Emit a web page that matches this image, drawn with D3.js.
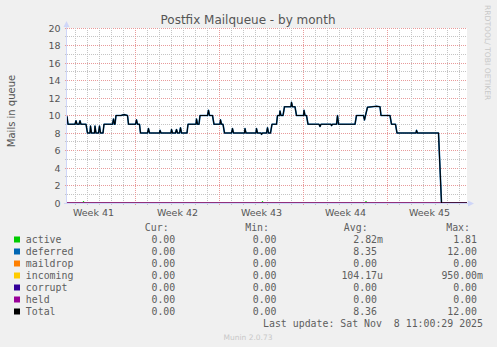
<!DOCTYPE html>
<html>
<head>
<meta charset="utf-8">
<script src="https://cdn.jsdelivr.net/npm/d3@7"></script>
<style>
  html, body { margin: 0; padding: 0; background: #f0f0f0; }
  svg { display: block; }
  text { font-family: "DejaVu Sans", sans-serif; }
  .mono { font-family: "DejaVu Sans Mono", monospace; font-size: 9.9px; fill: #5e5e5e; white-space: pre; }
</style>
</head>
<body>
<svg id="chart" width="497" height="347"></svg>
<script>
// Postfix mail queue, monthly view (2-hourly consolidated samples)
const fieldNames  = ["active", "deferred", "maildrop", "incoming", "corrupt", "held", "Total"];
const fieldColors = ["#00cc00", "#0066b3", "#ff8000", "#ffcc00", "#330099", "#990099", "#000000"];

const curValues = [0, 0, 0, 0, 0, 0, 0];
const minValues = [0, 0, 0, 0, 0, 0, 0];
const avgValues = [2.82e-3, 8.35, 0, 104.17e-6, 0, 0, 8.36];
const maxValues = [1.81, 12.00, 0, 0.95, 0, 0, 12.00];

const yTicks = [0, 2, 4, 6, 8, 10, 12, 14, 16, 18, 20];
const weekLabels = ["Week 41", "Week 42", "Week 43", "Week 44", "Week 45"];
const timeRange = ["10-06 07:00", "11-08 15:00"];
const lastUpdate = "Sat Nov  8 11:00:29 2025";

// Queue size over time: [month-day hour, mails]
const totalQueue = [
  ["10-06 07:00", 9.9], ["10-06 09:00", 9.0], ["10-06 23:00", 9.0], ["10-07 01:00", 9.4],
  ["10-07 03:00", 9.0], ["10-07 07:00", 9.0], ["10-07 09:00", 9.4], ["10-07 11:00", 9.0],
  ["10-07 21:00", 9.0], ["10-08 00:00", 8.0], ["10-08 05:00", 8.0], ["10-08 06:00", 8.8],
  ["10-08 08:00", 8.0], ["10-08 14:00", 8.0], ["10-08 15:00", 8.8], ["10-08 17:00", 8.0],
  ["10-08 22:00", 8.0], ["10-09 00:00", 8.8], ["10-09 02:00", 8.0], ["10-09 07:00", 8.0],
  ["10-09 09:00", 9.0], ["10-10 02:00", 9.0], ["10-10 04:00", 9.6], ["10-10 06:00", 9.0],
  ["10-10 07:00", 9.0], ["10-10 09:00", 10.0], ["10-10 19:00", 10.0], ["10-11 01:00", 10.1],
  ["10-11 08:00", 10.0], ["10-11 10:00", 9.0], ["10-12 00:00", 9.0], ["10-12 02:00", 9.5],
  ["10-12 04:00", 9.0], ["10-12 08:00", 9.0], ["10-12 10:00", 8.0], ["10-13 00:00", 8.0],
  ["10-13 02:00", 8.5], ["10-13 04:00", 8.0], ["10-14 00:00", 8.0], ["10-14 01:00", 8.3],
  ["10-14 03:00", 8.0], ["10-14 23:00", 8.0], ["10-15 00:00", 8.4], ["10-15 02:00", 8.0],
  ["10-15 08:00", 8.0], ["10-15 10:00", 8.4], ["10-15 12:00", 8.0], ["10-15 16:00", 8.0],
  ["10-15 18:00", 8.6], ["10-15 20:00", 8.0], ["10-16 07:00", 8.0], ["10-16 09:00", 9.0],
  ["10-17 01:00", 9.0], ["10-17 02:00", 9.6], ["10-17 04:00", 9.0], ["10-17 07:00", 9.0],
  ["10-17 09:00", 10.0], ["10-18 00:00", 10.0], ["10-18 02:00", 10.6], ["10-18 04:00", 10.0],
  ["10-18 10:00", 10.0], ["10-18 13:00", 9.0], ["10-19 01:00", 9.0], ["10-19 02:00", 9.5],
  ["10-19 04:00", 9.0], ["10-19 07:00", 9.0], ["10-19 10:00", 8.0], ["10-20 00:00", 8.0],
  ["10-20 02:00", 8.5], ["10-20 04:00", 8.0], ["10-21 02:00", 8.0], ["10-21 03:00", 8.5],
  ["10-21 05:00", 8.0], ["10-22 01:00", 8.0], ["10-22 02:00", 8.5], ["10-22 04:00", 8.0],
  ["10-22 11:00", 8.0], ["10-22 12:00", 7.85], ["10-22 14:00", 8.0], ["10-22 22:00", 8.0],
  ["10-23 00:00", 8.6], ["10-23 02:00", 8.0], ["10-23 06:00", 8.0], ["10-23 09:00", 9.0],
  ["10-23 18:00", 9.0], ["10-23 20:00", 10.0], ["10-24 00:00", 10.0], ["10-24 01:00", 10.5],
  ["10-24 03:00", 10.0], ["10-24 07:00", 10.0], ["10-24 10:00", 11.0], ["10-24 23:00", 11.0],
  ["10-25 00:00", 11.5], ["10-25 02:00", 11.0], ["10-25 07:00", 11.0], ["10-25 10:00", 10.0],
  ["10-26 00:00", 10.0], ["10-26 01:00", 10.6], ["10-26 03:00", 10.0], ["10-26 06:00", 10.0],
  ["10-26 09:00", 9.0], ["10-27 07:00", 9.0], ["10-27 09:00", 8.75], ["10-27 11:00", 9.0],
  ["10-28 07:00", 9.0], ["10-28 08:00", 8.85], ["10-28 10:00", 9.0], ["10-28 18:00", 9.0],
  ["10-28 20:00", 10.0], ["10-28 22:00", 9.0], ["10-30 07:00", 9.0], ["10-30 10:00", 10.0],
  ["10-31 00:00", 10.0], ["10-31 02:00", 9.5], ["10-31 04:00", 10.0], ["10-31 08:00", 10.95],
  ["11-01 02:00", 11.05], ["11-01 09:00", 11.0], ["11-01 11:00", 10.0], ["11-02 05:00", 10.0],
  ["11-02 08:00", 9.0], ["11-02 16:00", 9.0], ["11-02 19:00", 8.0], ["11-04 09:00", 8.0],
  ["11-04 10:00", 8.3], ["11-04 12:00", 8.0], ["11-06 06:00", 8.0], ["11-06 12:00", 0],
  ["11-08 15:00", 0]
];
const activeQueue = [
  ["10-06 07:00", 0], ["10-07 14:00", 0], ["10-07 16:00", 0.2], ["10-07 18:00", 0],
  ["10-22 12:00", 0], ["10-22 14:00", 0.2], ["10-22 16:00", 0],
  ["10-31 03:00", 0], ["10-31 05:00", 0.2], ["10-31 07:00", 0], ["11-08 15:00", 0]
];
const maildropQueue = [["10-06 07:00", 0], ["11-08 15:00", 0]];
const incomingQueue = [["10-06 07:00", 0], ["11-08 15:00", 0]];
const corruptQueue  = [["10-06 07:00", 0], ["11-08 15:00", 0]];
const heldQueue     = [["10-06 07:00", 0], ["11-08 15:00", 0]];

// ---------------------------------------------------------------------------
const parseTime = d3.utcParse("%Y-%m-%d %H:%M");
const toDate = s => parseTime("2025-" + s);
const toPoints = arr => arr.map(([t, v]) => ({ t: toDate(t), v }));

const svg = d3.select("#chart");
const W = 497, H = 347;
const plot = { left: 67, right: 467, top: 28, bottom: 203 };
const AXIS = "#cfd6f8";

svg.append("rect").attr("width", W).attr("height", H).attr("fill", "#f0f0f0");

const x = d3.scaleUtc().domain(timeRange.map(toDate)).range([plot.left, plot.right]);
const y = d3.scaleLinear().domain([0, 20]).range([plot.bottom, plot.top]);
const crisp = v => Math.floor(v) + 0.5;

// canvas
svg.append("rect")
  .attr("x", plot.left).attr("y", plot.top)
  .attr("width", plot.right - plot.left).attr("height", plot.bottom - plot.top)
  .attr("fill", "#ffffff");

const grid = svg.append("g");
const MINOR = "#c4c4c4", MAJOR = "#e89a9a";

// horizontal grid: minor each mail, major every 2
const hMinor = d3.range(1, 21).filter(v => v % 2 !== 0);
grid.selectAll(".hmin").data(hMinor).join("line")
  .attr("x1", plot.left - 2).attr("x2", plot.right)
  .attr("y1", d => crisp(y(d))).attr("y2", d => crisp(y(d)))
  .attr("stroke", MINOR).attr("stroke-dasharray", "1,1");
grid.selectAll(".hmaj").data(yTicks.filter(v => v > 0)).join("line")
  .attr("x1", plot.left - 2).attr("x2", plot.right)
  .attr("y1", d => crisp(y(d))).attr("y2", d => crisp(y(d)))
  .attr("stroke", MAJOR).attr("stroke-dasharray", "1,1");

// vertical grid: daily minor, weekly (Sunday) major
const [t0, t1] = x.domain();
const days = d3.utcDay.range(d3.utcDay.ceil(t0), t1).filter(d => d.getUTCDay() !== 0);
const weeks = d3.utcSunday.range(d3.utcSunday.ceil(t0), t1);
grid.selectAll(".vmin").data(days).join("line")
  .attr("x1", d => crisp(x(d))).attr("x2", d => crisp(x(d)))
  .attr("y1", plot.top).attr("y2", plot.bottom + 2)
  .attr("stroke", MINOR).attr("stroke-dasharray", "1,1");
grid.selectAll(".vmaj").data(weeks).join("line")
  .attr("x1", d => crisp(x(d))).attr("x2", d => crisp(x(d)))
  .attr("y1", plot.top).attr("y2", plot.bottom + 3)
  .attr("stroke", MAJOR).attr("stroke-dasharray", "1,1");

// y tick labels
svg.append("g").selectAll("text").data(yTicks).join("text")
  .attr("x", 60.5).attr("y", d => y(d) + 3.5)
  .attr("text-anchor", "end").attr("font-size", 9.5).attr("fill", "#555")
  .text(d => d);

// week labels, centred on each week
const weekStarts = d3.utcSunday.range(d3.utcSunday.floor(t0), t1);
svg.append("g").selectAll("text").data(weekStarts).join("text")
  .attr("x", d => x(d3.utcHour.offset(d, 84)))
  .attr("y", 216.2)
  .attr("text-anchor", "middle").attr("font-size", 9.5).attr("fill", "#555")
  .text((d, i) => weekLabels[i]);

// series
const series = [activeQueue, totalQueue, maildropQueue, incomingQueue, corruptQueue, heldQueue, totalQueue];
const widths = [1, 1.6, 1, 1, 1, 1, 1.1];
const line = d3.line().x(d => x(d.t)).y(d => y(d.v));
const lines = svg.append("g");
series.forEach((s, i) => {
  lines.append("path")
    .attr("d", line(toPoints(s)))
    .attr("fill", "none")
    .attr("stroke", fieldColors[i])
    .attr("stroke-width", widths[i])
    .attr("stroke-linejoin", "round");
});

// axes with arrows, painted over the series
svg.append("line").attr("x1", plot.left - 0.5).attr("x2", plot.left - 0.5)
  .attr("y1", plot.bottom + 1).attr("y2", plot.top - 4).attr("stroke", AXIS);
svg.append("path").attr("d", `M${plot.left - 3.5},${plot.top - 1} L${plot.left + 2.5},${plot.top - 1} L${plot.left - 0.5},${plot.top - 7} Z`)
  .attr("fill", AXIS);
svg.append("line").attr("x1", plot.left - 3).attr("x2", plot.right + 2)
  .attr("y1", plot.bottom + 0.5).attr("y2", plot.bottom + 0.5).attr("stroke", AXIS);
svg.append("path").attr("d", `M${plot.right + 1},${plot.bottom - 2.5} L${plot.right + 1},${plot.bottom + 3.5} L${plot.right + 7},${plot.bottom + 0.5} Z`)
  .attr("fill", AXIS);

// title and side labels
svg.append("text").attr("x", 248).attr("y", 24).attr("text-anchor", "middle")
  .attr("font-size", 12).attr("fill", "#555").text("Postfix Mailqueue - by month");
svg.append("text").attr("transform", "translate(14.5,111) rotate(-90)")
  .attr("text-anchor", "middle").attr("font-size", 10).attr("fill", "#555").text("Mails in queue");
svg.append("text").attr("transform", "translate(485,5) rotate(90)")
  .attr("font-size", 7.6).attr("fill", "#c8c8c8").text("RRDTOOL/ TOBI OETIKER");

// legend
const CH = 5.97;
const colEnds = [181.2, 282.5, 383, 483];
const headerX = [144.8, 245.2, 343.8, 446.2];
const headers = ["Cur:", "Min:", "Avg:", "Max:"];
function siFormat(v) {
  if (v === 0) return "0.00";
  const prefixes = [[1e-6, "u"], [1e-3, "m"], [1, ""], [1e3, "k"]];
  const p = prefixes.filter(([f]) => Math.abs(v) >= f).pop() || prefixes[0];
  return (v / p[0]).toFixed(2) + p[1];
}
const legend = svg.append("g");
headers.forEach((h, i) => {
  legend.append("text").attr("class", "mono").attr("x", headerX[i]).attr("y", 231).text(h);
});
const stats = [curValues, minValues, avgValues, maxValues];
fieldNames.forEach((name, r) => {
  const by = 243 + r * 12;
  legend.append("rect").attr("x", 14).attr("y", by - 6.5).attr("width", 6).attr("height", 6)
    .attr("fill", fieldColors[r]);
  legend.append("text").attr("class", "mono").attr("x", 25.8).attr("y", by).text(name);
  stats.forEach((col, c) => {
    const s = siFormat(col[r]);
    const hasSuffix = /[a-z]$/i.test(s);
    legend.append("text").attr("class", "mono")
      .attr("x", colEnds[c] - (hasSuffix ? 0 : CH)).attr("y", by)
      .attr("text-anchor", "end").text(s);
  });
});
legend.append("text").attr("class", "mono").attr("x", 483).attr("y", 326.5)
  .attr("text-anchor", "end").text("Last update: " + lastUpdate);
svg.append("text").attr("x", 248).attr("y", 339.5).attr("text-anchor", "middle")
  .attr("font-size", 7.5).attr("fill", "#c8c8c8").text("Munin 2.0.73");
</script>
</body>
</html>
